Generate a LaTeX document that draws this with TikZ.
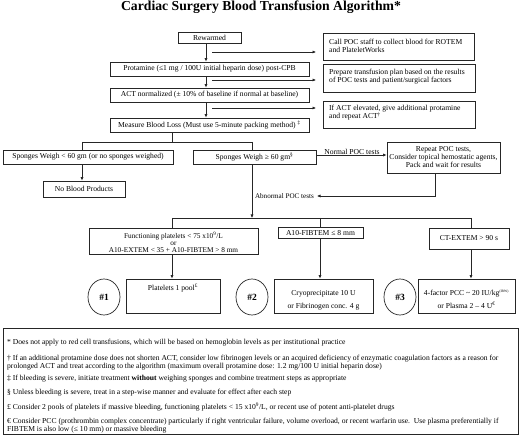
\documentclass[tikz,border=0pt]{standalone}
\usepackage{fontspec}
\setmainfont{Liberation Serif}
\usetikzlibrary{arrows.meta,shapes.geometric}
\newcommand\boxfont{\fontsize{7.6}{8.5}\selectfont}
\newcommand\notefont{\fontsize{7.6}{8}\selectfont}
\begin{document}
\begin{tikzpicture}[x=1pt,y=-1pt,
  box/.style={draw=black!85, line width=0.7pt, inner sep=0pt, font=\boxfont, align=center},
  txt/.style={inner sep=0pt, font=\boxfont, align=left},
  arr/.style={draw=black!85, line width=0.7pt, -{Latex[length=3.5pt,width=3.2pt]}},
  ln/.style={draw=black!85, line width=0.7pt},
  circ/.style={draw=black!85, line width=0.7pt, ellipse, minimum width=32pt, minimum height=36pt, inner sep=0pt, font=\fontsize{9.5}{10}\selectfont\bfseries},
  note/.style={inner sep=0pt, font=\notefont, anchor=west, align=left}]
\useasboundingbox (0,0) rectangle (520,438);
\node[font=\fontsize{13.7}{15}\selectfont\bfseries] (title) at (261,7.5) {Cardiac Surgery Blood Transfusion Algorithm*};

% left column
\node[box, minimum width=63pt, minimum height=11pt] (rew) at (209.5,37.5) {Rewarmed};
\node[box, minimum width=199pt, minimum height=14pt] (prot) at (209.5,69) {Protamine (≤1 mg / 100U initial heparin dose) post-CPB};
\node[box, minimum width=199pt, minimum height=14pt] (act) at (209.5,95) {ACT normalized (± 10\% of baseline if normal at baseline)};
\node[box, minimum width=199pt, minimum height=14pt] (meas) at (209.5,125) {Measure Blood Loss (Must use 5-minute packing method) \textsuperscript{‡}};

% right column
\node[box, minimum width=151pt, minimum height=27pt] (callpoc) at (398.5,46.5) {};
\node[txt, anchor=north west] (callpoct) at (329,38.8) {Call POC staff to collect blood for ROTEM\\and PlateletWorks};
\node[box, minimum width=152pt, minimum height=28pt] (prep) at (399,78) {};
\node[txt, anchor=north west] (prept) at (329,68.8) {Prepare transfusion plan based on the results\\of POC tests and patient/surgical factors};
\node[box, minimum width=152pt, minimum height=27pt] (ifact) at (399,114.5) {};
\node[txt, anchor=north west] (ifactt) at (329,104.8) {If ACT elevated, give additional protamine\\and repeat ACT\textsuperscript{†}};

% vertical chain
\draw[arr] (rew.south -| 206,0) -- (prot.north -| 206,0);
\draw[arr] (prot.south -| 206,0) -- (act.north -| 206,0);
\draw[arr] (act.south -| 206,0) -- (meas.north -| 206,0);

% side arrows
\coordinate (s1) at (212,52); \coordinate (e1) at (316,52);
\coordinate (s2) at (212,80); \coordinate (e2) at (316,80);
\coordinate (s3) at (212,108); \coordinate (e3) at (316,108);
\draw[arr] (s1) -- (e1);
\draw[arr] (s2) -- (e2);
\draw[arr] (s3) -- (e3);

% sponges
\node[box, minimum width=170pt, minimum height=14pt] (sl) at (88,157) {Sponges Weigh < 60 gm (or no sponges weighed)};
\node[box, minimum width=123pt, minimum height=14pt] (sg) at (254.5,157) {Sponges Weigh ≥ 60 gm\textsuperscript{§}};
\node[box, minimum width=82pt, minimum height=16pt] (nbp) at (84,189) {No Blood Products};
\node[box, minimum width=113pt, minimum height=31pt, font=\fontsize{7.6}{8}\selectfont] (rep) at (443.5,157.5) {Repeat POC tests,\\Consider topical hemostatic agents,\\Pack and wait for results};

\coordinate (split) at (172,142);
\draw[ln] (meas.south -| split) -- (split);
\draw[ln] (82,142) -- (252,142);
\draw[ln] (82,142) -- (sl.north -| 82,0);
\draw[ln] (252,142) -- (sg.north -| 252,0);
\draw[arr] (sl.south -| 82,0) -- (nbp.north -| 82,0);
\draw[arr] (sg.east |- 0,155) -- (rep.west |- 0,155);
\node[txt, anchor=south] (normlbl) at (352,154.3) {Normal POC tests};
\coordinate (abn) at (317,196);
\draw[arr] (rep.south -| 435,0) |- (abn);
\node[txt, anchor=east, font=\fontsize{7.1}{8}\selectfont] (abnlbl) at (314,196) {Abnormal POC tests};

% tests
\coordinate (hub) at (252,218);
\draw[arr] (sg.south -| hub) -- (hub);
\draw[ln] (172,218) -- (471,218);
\node[box, minimum width=169pt, minimum height=26pt] (fp) at (173.5,241) {};
\node[txt, align=center, font=\fontsize{7.3}{7.3}\selectfont] (fpt) at (173.5,242.5) {Functioning platelets < 75 x10\textsuperscript{9}/L\\or\\A10-EXTEM < 35 + A10-FIBTEM > 8 mm};
\node[box, minimum width=85pt, minimum height=11pt] (fib) at (320.5,233) {A10-FIBTEM ≤ 8 mm};
\node[box, minimum width=80pt, minimum height=21pt] (ct) at (469,238.5) {CT-EXTEM > 90 s};
\draw[ln] (172,218) -- (fp.north -| 172,0);
\draw[ln] (320,218) -- (fib.north -| 320,0);
\draw[ln] (471,218) -- (ct.north -| 471,0);

% treatments
\node[box, minimum width=94pt, minimum height=34pt] (plt) at (173,296) {};
\node[txt] (pltt) at (173,288) {Platelets 1 pool\textsuperscript{£}};
\node[box, minimum width=99pt, minimum height=34pt] (cryo) at (323.5,296) {};
\node[txt, align=center, font=\fontsize{7.6}{13}\selectfont] (cryot) at (323.5,300.5) {Cryoprecipitate 10 U\\or Fibrinogen conc. 4 g};
\node[box, minimum width=97pt, minimum height=34pt] (pcc) at (466.5,296) {};
\node[txt, align=center, font=\fontsize{7.6}{13}\selectfont] (pcct) at (466.5,299.5) {4-factor PCC \textasciitilde{} 20 IU/kg\textsuperscript{\fontsize{3.5}{4}\selectfont (IBW)}\\or Plasma 2 – 4 U\textsuperscript{€}};
\draw[arr] (fp.south -| 172,0) -- (plt.north -| 172,0);
\draw[arr] (fib.south -| 320,0) -- (cryo.north -| 320,0);
\draw[arr] (ct.south -| 471,0) -- (pcc.north -| 471,0);

\node[circ] (c1) at (104,297) {\#1};
\node[circ] (c2) at (252,297) {\#2};
\node[circ] (c3) at (400,297) {\#3};

% footnotes
\node[draw=black!85, line width=0.7pt, minimum width=515pt, minimum height=106pt, inner sep=0pt] (notes) at (260.5,381) {};
\node[note] (n1) at (7,343) {* Does not apply to red cell transfusions, which will be based on hemoglobin levels as per institutional practice};
\node[note] (n2) at (7,363) {† If an additional protamine dose does not shorten ACT, consider low fibrinogen levels or an acquired deficiency of enzymatic coagulation factors as a reason for\\prolonged ACT and treat according to the algorithm (maximum overall protamine dose: 1.2 mg/100 U initial heparin dose)};
\node[note] (n3) at (7,379) {‡ If bleeding is severe, initiate treatment \textbf{without} weighing sponges and combine treatment steps as appropriate};
\node[note] (n4) at (7,393) {§ Unless bleeding is severe, treat in a step-wise manner and evaluate for effect after each step};
\node[note] (n5) at (7,407) {£ Consider 2 pools of platelets if massive bleeding, functioning platelets < 15 x10\textsuperscript{9}/L, or recent use of potent anti-platelet drugs};
\node[note] (n6) at (7,425.5) {€ Consider PCC (prothrombin complex concentrate) particularly if right ventricular failure, volume overload, or recent warfarin use.\ \ Use plasma preferentially if\\FIBTEM is also low (≤ 10 mm) or massive bleeding};
\end{tikzpicture}
\end{document}
